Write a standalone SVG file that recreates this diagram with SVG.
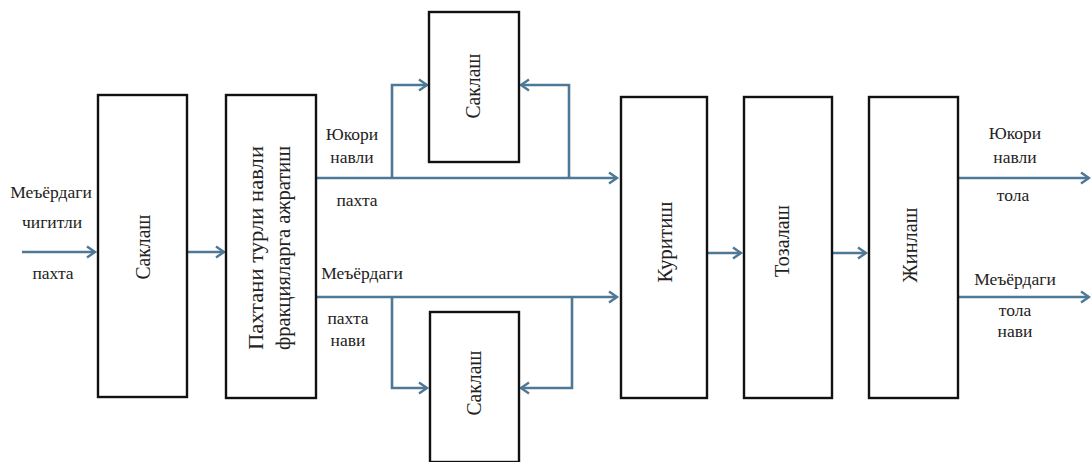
<svg xmlns="http://www.w3.org/2000/svg" width="1091" height="462" viewBox="0 0 1091 462">
<style>
.box{fill:#fff;stroke:#111;stroke-width:2.4}
.ln{fill:none;stroke:#4e7896;stroke-width:2.6;stroke-linejoin:miter}
.t{font-family:"Liberation Serif","DejaVu Serif",serif;font-size:17.5px;fill:#222;text-anchor:middle}
.r{font-family:"Liberation Serif","DejaVu Serif",serif;font-size:20px;fill:#222;text-anchor:middle;dominant-baseline:central}
</style>
<defs>
<marker id="ah" markerWidth="14" markerHeight="14" refX="11" refY="7" orient="auto" markerUnits="userSpaceOnUse">
<path d="M3,1.5 L11,7 L3,12.5" fill="none" stroke="#4e7896" stroke-width="2.4"/>
</marker>
</defs>
<rect width="1091" height="462" fill="#fff"/>
<g id="connectors">
<line class="ln" x1="22" y1="252" x2="95" y2="252" marker-end="url(#ah)"/>
<line class="ln" x1="187" y1="252" x2="224" y2="252" marker-end="url(#ah)"/>
<line class="ln" x1="316" y1="178" x2="617" y2="178" marker-end="url(#ah)"/>
<polyline class="ln" points="392,178 392,85 427,85" marker-end="url(#ah)"/>
<polyline class="ln" points="569,178 569,85 521,85" marker-end="url(#ah)"/>
<line class="ln" x1="316" y1="297" x2="617" y2="297" marker-end="url(#ah)"/>
<polyline class="ln" points="392,297 392,388 427,388" marker-end="url(#ah)"/>
<polyline class="ln" points="572,297 572,388 521,388" marker-end="url(#ah)"/>
<line class="ln" x1="707" y1="253" x2="741" y2="253" marker-end="url(#ah)"/>
<line class="ln" x1="832" y1="253" x2="866" y2="253" marker-end="url(#ah)"/>
<line class="ln" x1="958" y1="178" x2="1089" y2="178" marker-end="url(#ah)"/>
<line class="ln" x1="958" y1="297" x2="1089" y2="297" marker-end="url(#ah)"/>
</g>
<g id="labels">
<text class="t" x="51" y="198">Меъёрдаги</text>
<text class="t" x="52" y="228">чигитли</text>
<text class="t" x="53" y="279">пахта</text>
<text class="t" x="352" y="140">Юкори</text>
<text class="t" x="352" y="163">навли</text>
<text class="t" x="357" y="206">пахта</text>
<text class="t" x="362" y="279">Меъёрдаги</text>
<text class="t" x="348" y="324">пахта</text>
<text class="t" x="348" y="346">нави</text>
<text class="t" x="1015" y="139">Юкори</text>
<text class="t" x="1015" y="163">навли</text>
<text class="t" x="1013" y="201">тола</text>
<text class="t" x="1015" y="285">Меъёрдаги</text>
<text class="t" x="1015" y="316">тола</text>
<text class="t" x="1015" y="337">нави</text>
</g>
<g id="n-saklash1">
<rect class="box" x="98" y="95" width="89" height="302"/>
<text class="r" transform="translate(143,247) rotate(-90)" textLength="65" lengthAdjust="spacingAndGlyphs">Саклаш</text>
</g>
<g id="n-fraksiya">
<rect class="box" x="226" y="95" width="90" height="303"/>
<text class="r" transform="translate(256,248) rotate(-90)" textLength="204" lengthAdjust="spacingAndGlyphs">Пахтани турли навли</text>
<text class="r" transform="translate(283,248) rotate(-90)" textLength="204" lengthAdjust="spacingAndGlyphs">фракцияларга ажратиш</text>
</g>
<g id="n-saklash-top">
<rect class="box" x="429" y="12" width="90" height="150"/>
<text class="r" transform="translate(473,86) rotate(-90)" textLength="65" lengthAdjust="spacingAndGlyphs">Саклаш</text>
</g>
<g id="n-saklash-bottom">
<rect class="box" x="430" y="312" width="89" height="150"/>
<text class="r" transform="translate(474,383) rotate(-90)" textLength="65" lengthAdjust="spacingAndGlyphs">Саклаш</text>
</g>
<g id="n-quritish">
<rect class="box" x="621" y="97" width="86" height="301"/>
<text class="r" transform="translate(665,242) rotate(-90)" textLength="81" lengthAdjust="spacingAndGlyphs">Куритиш</text>
</g>
<g id="n-tozalash">
<rect class="box" x="744" y="97" width="88" height="301"/>
<text class="r" transform="translate(782,241) rotate(-90)" textLength="72" lengthAdjust="spacingAndGlyphs">Тозалаш</text>
</g>
<g id="n-jinlash">
<rect class="box" x="869" y="97" width="89" height="301"/>
<text class="r" transform="translate(910,245) rotate(-90)" textLength="75" lengthAdjust="spacingAndGlyphs">Жинлаш</text>
</g>
</svg>
